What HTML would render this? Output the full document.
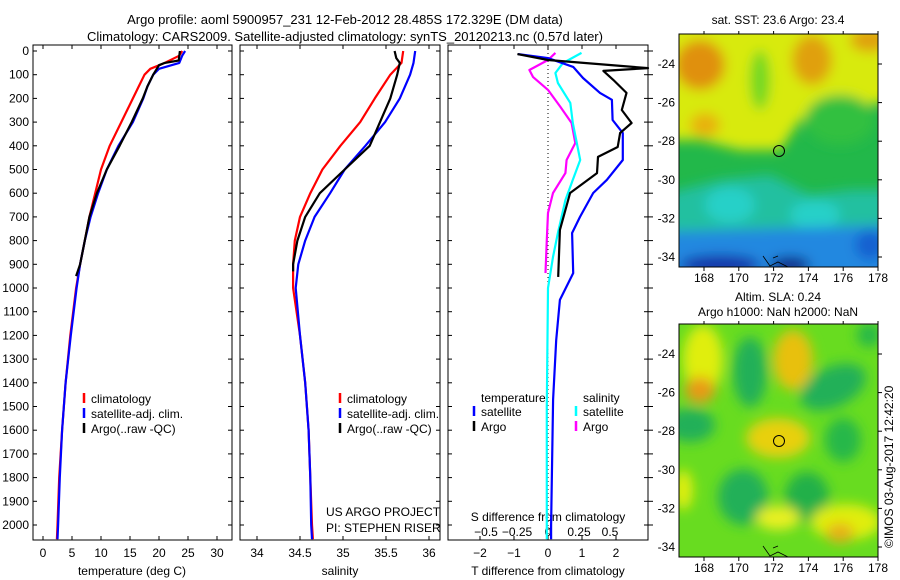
<!DOCTYPE html>
<html><head><meta charset="utf-8">
<style>
html,body{margin:0;padding:0;background:#fff;}
svg{display:block;font-family:"Liberation Sans",sans-serif;}
</style></head>
<body>
<svg id="fig" width="900" height="580" viewBox="0 0 900 580" xmlns="http://www.w3.org/2000/svg">
<defs>
<filter id="bl" x="-30%" y="-30%" width="160%" height="160%"><feGaussianBlur stdDeviation="6"/></filter>
<clipPath id="m1c"><rect x="679" y="34" width="199" height="233"/></clipPath>
<clipPath id="m2c"><rect x="679" y="324" width="199" height="233"/></clipPath>
</defs>
<text x="345" y="24" font-size="13" text-anchor="middle">Argo profile: aoml 5900957_231 12-Feb-2012 28.485S 172.329E (DM data)</text>
<text x="345" y="41" font-size="13" text-anchor="middle">Climatology: CARS2009. Satellite-adjusted climatology: synTS_20120213.nc (0.57d later)</text>

<g clip-path="url(#m1c)">
<rect x="679" y="34" width="199" height="233" fill="#22b84a"/>
<g filter="url(#bl)">
<polygon points="660,20 900,20 900,100 830,110 800,120 780,150 740,150 700,140 660,140" fill="#d8ea10"/>
<ellipse cx="700" cy="65" rx="25" ry="25" fill="#e09010"/>
<ellipse cx="812" cy="60" rx="20" ry="25" fill="#e0a010"/>
<ellipse cx="870" cy="40" rx="20" ry="12" fill="#e0a010"/>
<ellipse cx="705" cy="125" rx="15" ry="12" fill="#e8b010"/>
<ellipse cx="760" cy="80" rx="10" ry="30" fill="#70d820"/>
<ellipse cx="840" cy="120" rx="35" ry="25" fill="#30c040"/>
<polygon points="660,195 720,180 770,175 810,195 850,190 900,190 900,240 660,240" fill="#20c0a0"/>
<ellipse cx="730" cy="205" rx="25" ry="18" fill="#28d0c8"/>
<ellipse cx="815" cy="215" rx="25" ry="15" fill="#28d0c8"/>
<polygon points="660,232 900,225 900,290 660,290" fill="#2088e0"/>
<ellipse cx="720" cy="265" rx="40" ry="10" fill="#1830a8"/>
<ellipse cx="790" cy="265" rx="20" ry="8" fill="#101880"/>
<ellipse cx="870" cy="245" rx="15" ry="15" fill="#1860d0"/>
</g>
</g>
<g clip-path="url(#m2c)">
<rect x="679" y="324" width="199" height="233" fill="#68dc20"/>
<g filter="url(#bl)">
<ellipse cx="750" cy="372" rx="17" ry="35" fill="#20b058"/>
<ellipse cx="833" cy="387" rx="35" ry="20" fill="#20b058" transform="rotate(-25 833 387)"/>
<ellipse cx="690" cy="425" rx="25" ry="17" fill="#20b058"/>
<ellipse cx="843" cy="440" rx="18" ry="22" fill="#28b848"/>
<ellipse cx="743" cy="497" rx="25" ry="28" fill="#20b058"/>
<ellipse cx="807" cy="497" rx="22" ry="25" fill="#20b048"/>
<ellipse cx="869" cy="335" rx="12" ry="12" fill="#28b848"/>
<ellipse cx="703" cy="360" rx="20" ry="35" fill="#e0ee10"/>
<ellipse cx="700" cy="390" rx="15" ry="13" fill="#e89a18"/>
<ellipse cx="793" cy="360" rx="20" ry="30" fill="#e8c010"/>
<ellipse cx="778" cy="438" rx="32" ry="20" fill="#e8d010"/>
<ellipse cx="846" cy="522" rx="35" ry="18" fill="#e0ee10"/>
<ellipse cx="840" cy="533" rx="14" ry="10" fill="#e8b018"/>
<ellipse cx="683" cy="490" rx="10" ry="20" fill="#e0ee10"/>
<ellipse cx="778" cy="518" rx="22" ry="12" fill="#e8f020"/>
</g>
</g>
<rect x="679" y="34" width="199" height="233" fill="none" stroke="#000"/>
<rect x="679" y="324" width="199" height="233" fill="none" stroke="#000"/>
<circle cx="779" cy="151" r="5.5" fill="none" stroke="#000"/>
<circle cx="779" cy="441" r="5.5" fill="none" stroke="#000"/>
<path d="M763,256 L770,266 L778,262 L788,267 M773,258 L778,256" fill="none" stroke="#000" stroke-width="0.8"/>
<path d="M763,546 L770,556 L778,552 L788,557 M773,548 L778,546" fill="none" stroke="#000" stroke-width="0.8"/>
<text x="778" y="24" font-size="12" text-anchor="middle">sat. SST: 23.6 Argo: 23.4</text>
<text x="778" y="301" font-size="12" text-anchor="middle">Altim. SLA: 0.24</text>
<text x="778" y="316" font-size="12" text-anchor="middle">Argo h1000: NaN h2000: NaN</text>
<text transform="translate(893,548) rotate(-90)" font-size="12">©IMOS 03-Aug-2017 12:42:20</text>
<g id="axes"></g>
<g id="marks"></g>
</svg>
<script>
const tClimDepth=[0,20,50,75,100,150,200,300,400,500,600,700,800,900,1000,1200,1400,1600,1800,2000,2060];
const tClim=[24,23.5,21,18.5,17.5,16.5,15.5,13.5,11.5,10,9,8,7.2,6.4,5.7,4.7,3.9,3.3,2.8,2.5,2.4];
const tSat=[24.5,24,23.5,20,19,18,17.3,15.5,13,11,9.5,8.2,7.2,6.4,5.8,4.8,3.9,3.3,2.9,2.6,2.5];
const tArgoDepth=[0,20,40,50,60,100,150,200,300,400,500,600,700,800,900,950];
const tArgo=[23.6,23.5,23.4,21,20,19,18,17.2,15.3,13.2,11,9.3,8,7.2,6.4,5.7];
const sClimDepth=[0,50,100,200,300,400,500,600,700,800,900,1000,1200,1400,1600,1800,2000,2060];
const sClim=[35.7,35.68,35.55,35.37,35.2,34.97,34.76,34.62,34.5,34.44,34.42,34.42,34.5,34.56,34.6,34.62,34.64,34.65];
const sSat=[35.84,35.82,35.78,35.66,35.49,35.26,35.02,34.85,34.67,34.56,34.48,34.45,34.5,34.56,34.6,34.62,34.63,34.64];
const sArgoDepth=[0,30,50,100,200,300,400,500,600,700,800,900,930];
const sArgo=[35.6,35.62,35.66,35.63,35.55,35.43,35.31,35.02,34.73,34.56,34.47,34.42,34.42];
const tdSatDepth=[13,30,67,114,177,206,291,346,460,544,599,700,768,937,1050,1220,1470,2000,2060];
const tdSat=[-0.88,0,0.74,1.03,1.53,1.88,1.9,2.2,2.2,1.73,1.33,0.94,0.71,0.74,0.35,0.24,0.15,0.09,0.09];
const tdArgoDepth=[13,38,72,84,122,177,249,304,346,405,447,515,599,755,953];
const tdArgo=[-0.9,0,2.94,1.63,1.92,2.31,2.17,2.46,2.12,2.05,1.47,1.44,0.65,0.35,0.3];
const sdArgoDepth=[8,38,80,110,164,236,304,388,460,515,599,683,797,937];
const sdArgo=[0.06,0,-0.15,-0.12,0,0.1,0.19,0.22,0.15,0.14,0.04,0,-0.01,-0.02];
const sdSatDepth=[8,51,93,135,219,304,460,544,629,768,869,1000,1500,2060];
const sdSat=[0.27,0.12,0.06,0.08,0.18,0.2,0.26,0.2,0.14,0.08,0.04,0,-0.01,-0.01];
const depthTicks=[0,100,200,300,400,500,600,700,800,900,1000,1100,1200,1300,1400,1500,1600,1700,1800,1900,2000];
const tempTicks=[0,5,10,15,20,25,30];
const salTicks=[34,34.5,35,35.5,36];
const salTickLabels=["34","34.5","35","35.5","36"];
const tdTicks=[-2,-1,0,1,2];
const sdTicks=[-0.5,-0.25,0,0.25,0.5];
const sdTickLabels=["\u22120.5","\u22120.25","0","0.25","0.5"];
const TOP=45,BOT=540;
const yD=d=>51+d*0.237;
const xT=t=>43+t*5.8;
const xS=s=>257+(s-34)*86;
const xTD=v=>548+v*34;
const xSD=v=>548+v*124;
const NS='http://www.w3.org/2000/svg';
const axes=document.getElementById('axes'), marks=document.getElementById('marks');
function mk(tag,attrs,parent,text){const e=document.createElementNS(NS,tag);for(const k in attrs)e.setAttribute(k,attrs[k]);if(text!==undefined)e.textContent=text;parent.appendChild(e);return e;}
const panels=[[33,232],[240,440],[448,648]];
panels.forEach((p,i)=>{
  const r=mk('rect',{x:p[0],y:TOP,width:p[1]-p[0],height:BOT-TOP,fill:'none',stroke:'#000'},axes);
  
  
  depthTicks.forEach(d=>{
    mk('line',{x1:p[0],x2:p[0]+4,y1:yD(d),y2:yD(d),stroke:'#000'},axes);
    mk('line',{x1:p[1],x2:p[1]-4,y1:yD(d),y2:yD(d),stroke:'#000'},axes);
  });
});
depthTicks.forEach(d=>{
  const t=mk('text',{x:29,y:yD(d)+4,'font-size':12,'text-anchor':'end'},axes,String(d));
  
  
  mk('line',{x1:648,x2:653,y1:yD(d),y2:yD(d),stroke:'#000'},axes);
});
function xticks(ticks,labels,fx,ylab,name){
  ticks.forEach((v,i)=>{
    const x=fx(v);
    mk('line',{x1:x,x2:x,y1:BOT,y2:BOT-4,stroke:'#000'},axes);
    mk('line',{x1:x,x2:x,y1:TOP,y2:TOP+4,stroke:'#000'},axes);
    const t=mk('text',{x:x,y:ylab,'font-size':12,'text-anchor':'middle'},axes,labels[i]);
    
    
  });
}
xticks(tempTicks,tempTicks.map(String),xT,557,'temperature-tick-label');
xticks(salTicks,salTickLabels,xS,557,'salinity-tick-label');
xticks(tdTicks,tdTicks.map(v=>v<0?'\u2212'+(-v):String(v)),xTD,557,'t-diff-tick-label');
sdTicks.forEach((v,i)=>{
  const t=mk('text',{x:xSD(v),y:536,'font-size':12,'text-anchor':'middle'},axes,sdTickLabels[i]);
  
  
});
[['temperature (deg C)',132,'temperature-axis-title'],['salinity',340,'salinity-axis-title'],['T difference from climatology',548,'t-diff-axis-title']].forEach(a=>{
  const t=mk('text',{x:a[1],y:575,'font-size':12,'text-anchor':'middle'},axes,a[0]);
  
  
});
let st=mk('text',{x:548,y:521,'font-size':12,'text-anchor':'middle'},axes,'S difference from climatology');


let c1=mk('text',{x:326,y:516,'font-size':12},axes,'US ARGO PROJECT');


let c2=mk('text',{x:326,y:532,'font-size':12},axes,'PI: STEPHEN RISER');


mk('line',{x1:548,x2:548,y1:TOP,y2:BOT,stroke:'#000','stroke-dasharray':'1,3'},axes);
function line(depths,vals,fx,color,name){
  const pts=depths.map((d,i)=>fx(vals[i]).toFixed(1)+','+yD(d).toFixed(1)).join(' ');
  const pl=mk('polyline',{points:pts,fill:'none',stroke:color,'stroke-width':2.2,'stroke-linejoin':'round'},marks);
  
  
}
line(tClimDepth,tClim,xT,'#f00','temp-climatology-line');
line(tClimDepth,tSat,xT,'#00f','temp-satellite-line');
line(tArgoDepth,tArgo,xT,'#000','temp-argo-line');
line(sClimDepth,sClim,xS,'#f00','sal-climatology-line');
line(sClimDepth,sSat,xS,'#00f','sal-satellite-line');
line(sArgoDepth,sArgo,xS,'#000','sal-argo-line');
line(sdArgoDepth,sdArgo,xSD,'#f0f','sdiff-argo-line');
line(sdSatDepth,sdSat,xSD,'#0ff','sdiff-satellite-line');
line(tdSatDepth,tdSat,xTD,'#00f','tdiff-satellite-line');
line(tdArgoDepth,tdArgo,xTD,'#000','tdiff-argo-line');
function legend(x,y,color,label){
  const g=mk('g',{},axes);
  
  
  mk('line',{x1:x,x2:x,y1:y-10,y2:y,stroke:color,'stroke-width':2.5},g);
  mk('text',{x:x+7,y:y,'font-size':12},g,label);
}
[[84,'climatology','#f00'],[84,'satellite-adj. clim.','#00f'],[84,"Argo(..raw -QC)",'#000']].forEach((e,i)=>legend(e[0],403+i*15,e[2],e[1]));
[[340,'climatology','#f00'],[340,'satellite-adj. clim.','#00f'],[340,"Argo(..raw -QC)",'#000']].forEach((e,i)=>legend(e[0],403+i*15,e[2],e[1]));
let lt=mk('text',{x:481,y:402,'font-size':12},axes,'temperature');


let ls=mk('text',{x:583,y:402,'font-size':12},axes,'salinity');


legend(474,416,'#00f','satellite');
legend(474,431,'#000','Argo');
legend(576,416,'#0ff','satellite');
legend(576,431,'#f0f','Argo');
const lonTicks=[168,170,172,174,176,178];
const latTicks=[-24,-26,-28,-30,-32,-34];
const xLon=l=>704+(l-168)*17.4;
[[64,34,267],[354,324,557]].forEach((m,mi)=>{
  lonTicks.forEach(l=>{
    mk('line',{x1:xLon(l),x2:xLon(l),y1:m[2],y2:m[2]+4,stroke:'#000'},axes);
    mk('line',{x1:xLon(l),x2:xLon(l),y1:m[1],y2:m[1]-3,stroke:'#000'},axes);
    const t=mk('text',{x:xLon(l),y:m[2]+15,'font-size':12,'text-anchor':'middle'},axes,String(l));
    
    
  });
  latTicks.forEach(l=>{
    const y=m[0]+(-24-l)*19.3;
    mk('line',{x1:878,x2:882,y1:y,y2:y,stroke:'#000'},axes);
    const t=mk('text',{x:675,y:y+4,'font-size':12,'text-anchor':'end'},axes,String(l));
    
    
  });
});
</script>
</body></html>
